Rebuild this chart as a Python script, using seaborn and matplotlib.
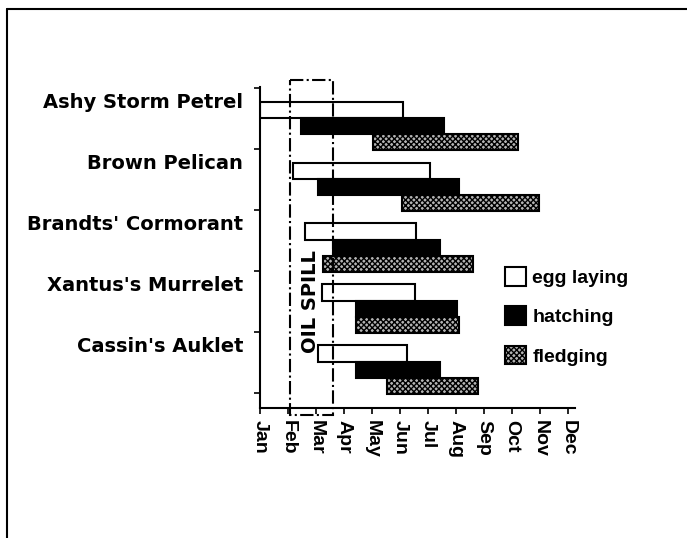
import matplotlib
matplotlib.use('Agg')
import matplotlib.pyplot as plt
import matplotlib.patches as mpatches
from matplotlib.lines import Line2D
import seaborn as sns
import numpy as np
import pandas as pd

# dados (meses: 0 = Jan ... 11 = Dec)
especies = ['Ashy Storm Petrel', 'Brown Pelican', "Brandts' Cormorant",
            "Xantus's Murrelet", "Cassin's Auklet"]
etapas = ['egg laying', 'hatching', 'fledging']
meses = ['Jan', 'Feb', 'Mar', 'Apr', 'May', 'Jun',
         'Jul', 'Aug', 'Sep', 'Oct', 'Nov', 'Dec']

ovo_ini = [0.0, 1.17, 1.61, 2.2, 2.08]
ovo_fim = [5.1, 6.07, 5.57, 5.54, 5.25]
eclosao_ini = [1.46, 2.07, 2.6, 3.43, 3.43]
eclosao_fim = [6.57, 7.1, 6.43, 7.04, 6.43]
voo_ini = [4.04, 5.07, 2.25, 3.43, 4.52]
voo_fim = [9.2, 9.96, 7.6, 7.1, 7.8]

derrame = [1.07, 2.6]  # oil spill (Feb - meados de Mar)

sns.set_style('ticks')
plt.rcParams['font.family'] = ['Liberation Sans', 'DejaVu Sans']
plt.rcParams['hatch.linewidth'] = 1.0
for k in ['text.color', 'axes.edgecolor', 'xtick.color', 'ytick.color',
          'axes.labelcolor']:
    plt.rcParams[k] = 'black'

# tabela longa para o seaborn
linhas = []
for i, esp in enumerate(especies):
    linhas.append([esp, 'egg laying', ovo_ini[i], ovo_fim[i] - ovo_ini[i]])
    linhas.append([esp, 'hatching', eclosao_ini[i], eclosao_fim[i] - eclosao_ini[i]])
    linhas.append([esp, 'fledging', voo_ini[i], voo_fim[i] - voo_ini[i]])
df = pd.DataFrame(linhas, columns=['especie', 'etapa', 'inicio', 'duracao'])

fig = plt.figure(figsize=(6.87, 5.38), dpi=100)
ax = fig.add_axes([260/687, 1-408/538, 315/687, 321/538])

cinza = '#b4b4b4'
cores = {'egg laying': 'white', 'hatching': 'black', 'fledging': cinza}
sns.barplot(data=df, y='especie', x='duracao', hue='etapa', order=especies,
            hue_order=etapas, orient='h', palette=cores, saturation=1,
            edgecolor='black', linewidth=1.5, errorbar=None, width=0.8,
            legend=False, ax=ax)

# desloca as barras para o inicio de cada etapa
for cont, etapa in zip(ax.containers, etapas):
    sub = df[df['etapa'] == etapa].set_index('especie').loc[especies]
    for barra, ini in zip(cont, sub['inicio']):
        barra.set_x(ini)
        if etapa == 'fledging':
            barra.set_hatch('xxxxxx')

# eixo x
ax.set_xlim(0, 11.25)
ax.set_xticks(range(12))
ax.set_xticklabels(meses, rotation=-90, fontweight='bold', fontsize=14)
ax.tick_params(axis='x', length=4, width=1.2, pad=5)

# eixo y
ax.set_ylim(4.63, -0.64)
ax.set_yticks(np.arange(6) - 0.62)
ax.set_yticklabels([''] * 6)
ax.set_yticks(np.arange(5) - 0.42, minor=True)
ax.set_yticklabels(especies, minor=True, fontweight='bold', fontsize=14,
                   family='DejaVu Sans')
ax.tick_params(axis='y', which='major', length=4, width=1.2)
ax.tick_params(axis='y', which='minor', length=0, pad=12)
ax.set_xlabel('')
ax.set_ylabel('')
sns.despine(ax=ax)
for s in ['left', 'bottom']:
    ax.spines[s].set_linewidth(1.5)

# oil spill
ret = mpatches.Rectangle((derrame[0], -0.75), derrame[1] - derrame[0], 5.49,
                         fill=False, linestyle='-.', linewidth=1.5,
                         edgecolor='black', clip_on=False, zorder=5)
ax.add_patch(ret)
ax.text(1.79, 2.89, 'OIL SPILL', rotation=90, ha='center', va='center',
        fontweight='bold', fontsize=14, family='DejaVu Sans', zorder=6)

# legenda
alcas = [mpatches.Patch(facecolor='white', edgecolor='black', linewidth=1.5),
         mpatches.Patch(facecolor='black', edgecolor='black', linewidth=1.5),
         mpatches.Patch(facecolor=cinza, edgecolor='black', linewidth=1.5,
                        hatch='xxxxxx')]
ax.legend(alcas, etapas, loc='upper left', bbox_to_anchor=(505/687, 1-267/538),
          bbox_transform=fig.transFigure, frameon=False, borderpad=0,
          borderaxespad=0, handlelength=1.1, handleheight=1.1,
          handletextpad=0.3, labelspacing=1.0,
          prop={'weight': 'bold', 'size': 14})

# moldura (apenas topo e esquerda visiveis)
fig.add_artist(Line2D([7/687, 1], [1-9/538, 1-9/538], color='black', lw=1.5,
                      transform=fig.transFigure))
fig.add_artist(Line2D([7/687, 7/687], [0, 1-9/538], color='black', lw=1.5,
                      transform=fig.transFigure))

fig.savefig('out.png', dpi=100)
